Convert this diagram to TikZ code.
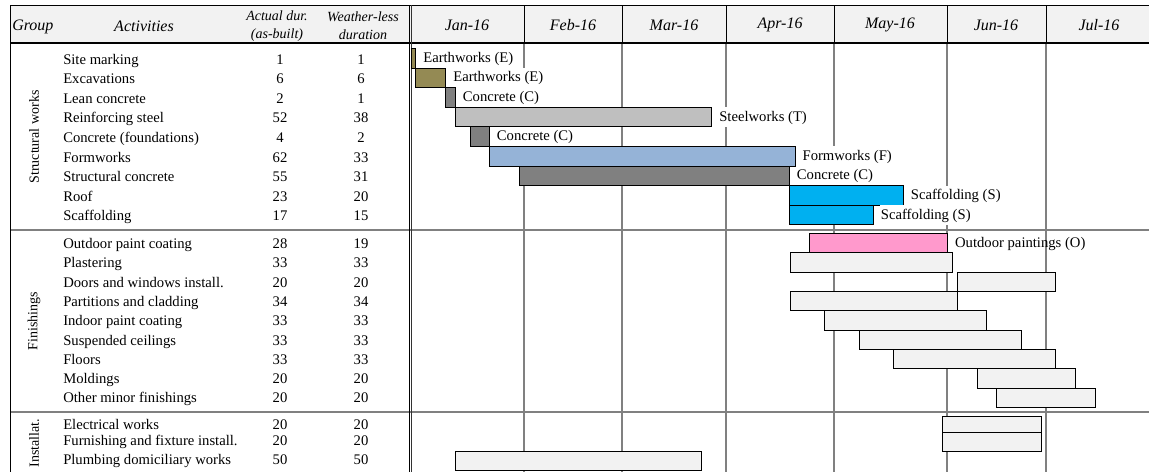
\documentclass[tikz,border=0pt]{standalone}
\usepackage{fontspec}
\setmainfont{Liberation Serif}
\usepackage{xcolor}

\definecolor{headfill}{HTML}{F2F2F2}
\definecolor{gridgrey}{HTML}{808080}
\definecolor{olivebar}{HTML}{948A54}
\definecolor{concbar}{HTML}{808080}
\definecolor{steelbar}{HTML}{BFBFBF}
\definecolor{formbar}{HTML}{95B3D7}
\definecolor{scafbar}{HTML}{00B0F0}
\definecolor{paintbar}{HTML}{FF99CC}
\definecolor{finbar}{HTML}{F2F2F2}

\tikzset{
  bar/.style={draw=black, line width=0.75pt},
  gridline/.style={draw=gridgrey, line width=0.9pt},
  act/.style={anchor=west, inner sep=0pt, text height=8pt, text depth=2pt, font=\fontsize{11}{13}\selectfont},
  num/.style={inner sep=0pt, text height=8pt, text depth=2pt, font=\fontsize{11}{13}\selectfont},
  barlbl/.style={anchor=west, fill=white, inner xsep=1pt, inner ysep=2.4pt, text height=8pt, text depth=2pt, font=\fontsize{11}{13}\selectfont},
  hdr/.style={align=center, inner sep=0pt, font=\fontsize{10.5}{13.7}\selectfont\itshape},
  month/.style={inner sep=0pt, font=\fontsize{12}{14}\selectfont\itshape},
  grp/.style={rotate=90, inner sep=0pt, font=\fontsize{10.5}{12}\selectfont},
}

\begin{document}
\begin{tikzpicture}[x=0.75pt, y=-0.75pt]
    \useasboundingbox (0,0) rectangle (1149,472);

    % Header band
    \fill[headfill] (10,5) rectangle (1149,43);
    \draw[black, line width=0.75pt] (10,5) -- (1149,5);
    \draw[black, line width=0.75pt] (524,5) -- (524,43);
    \draw[black, line width=0.75pt] (622,5) -- (622,43);
    \draw[black, line width=0.75pt] (726,5) -- (726,43);
    \draw[black, line width=0.75pt] (834,5) -- (834,43);
    \draw[black, line width=0.75pt] (947,5) -- (947,43);
    \draw[black, line width=0.75pt] (1046,5) -- (1046,43);

    % Month grid lines
    \draw[gridline] (524,43) -- (524,472);
    \draw[gridline] (622,43) -- (622,472);
    \draw[gridline] (726,43) -- (726,472);
    \draw[gridline] (834,43) -- (834,472);
    \draw[gridline] (947,43) -- (947,472);
    \draw[gridline, line width=1.2pt] (1046,43) -- (1046,472);

    % Group separators
    \draw[gridline, line width=1.2pt] (10,230) -- (1149,230);
    \draw[gridline, line width=1.2pt] (10,412) -- (1149,412);

    % Frame
    \draw[black, line width=1.1pt] (10,43) -- (1149,43);
    \draw[black, line width=0.75pt] (10,5) -- (10,472);
    \draw[black, line width=0.75pt] (409.3,5) -- (409.3,472);
    \draw[black!80, line width=0.9pt] (411.3,5) -- (411.3,472);

    % Header texts
    \node[month, anchor=west] (hgroup) at (12,26.5) {Group};
    \node[month] (hact) at (144,26.5) {Activities};
    \node[hdr] (hdur) at (277,25.8) {Actual dur.\\(as-built)};
    \node[hdr] (hwl) at (363,25.8) {Weather-less\\duration};
    \node[month] (mjan) at (467,25) {Jan-16};
    \node[month] (mfeb) at (573,25) {Feb-16};
    \node[month] (mmar) at (674,25) {Mar-16};
    \node[month] (mapr) at (780,25) {Apr-16};
    \node[month] (mmay) at (890,25) {May-16};
    \node[month] (mjun) at (996,25) {Jun-16};
    \node[month] (mjul) at (1099,25) {Jul-16};

    % Group labels
    \node[grp] (gstruct) at (34,137) {Structural works};
    \node[grp] (gfin) at (34,321) {Finishings};
    \node[grp] (ginst) at (34,443) {Installat.};

    % Structural works rows
    \node[act] (a1) at (63,60) {Site marking};            \node[num] (r1) at (280,60) {1};    \node[num] (w1) at (361,60) {1};
    \node[act] (a2) at (63,79.6) {Excavations};           \node[num] (r2) at (280,79.6) {6};  \node[num] (w2) at (361,79.6) {6};
    \node[act] (a3) at (63,99.2) {Lean concrete};         \node[num] (r3) at (280,99.2) {2};  \node[num] (w3) at (361,99.2) {1};
    \node[act] (a4) at (63,118.8) {Reinforcing steel};    \node[num] (r4) at (280,118.8) {52}; \node[num] (w4) at (361,118.8) {38};
    \node[act] (a5) at (63,138.4) {Concrete (foundations)}; \node[num] (r5) at (280,138.4) {4}; \node[num] (w5) at (361,138.4) {2};
    \node[act] (a6) at (63,158) {Formworks};              \node[num] (r6) at (280,158) {62};  \node[num] (w6) at (361,158) {33};
    \node[act] (a7) at (63,177.6) {Structural concrete};  \node[num] (r7) at (280,177.6) {55}; \node[num] (w7) at (361,177.6) {31};
    \node[act] (a8) at (63,197.2) {Roof};                 \node[num] (r8) at (280,197.2) {23}; \node[num] (w8) at (361,197.2) {20};
    \node[act] (a9) at (63,216.8) {Scaffolding};          \node[num] (r9) at (280,216.8) {17}; \node[num] (w9) at (361,216.8) {15};

    % Finishings rows
    \node[act] (a10) at (63,244.5) {Outdoor paint coating};      \node[num] (r10) at (280,244.5) {28}; \node[num] (w10) at (361,244.5) {19};
    \node[act] (a11) at (63,263.8) {Plastering};                 \node[num] (r11) at (280,263.8) {33}; \node[num] (w11) at (361,263.8) {33};
    \node[act] (a12) at (63,283.1) {Doors and windows install.}; \node[num] (r12) at (280,283.1) {20}; \node[num] (w12) at (361,283.1) {20};
    \node[act] (a13) at (63,302.4) {Partitions and cladding};    \node[num] (r13) at (280,302.4) {34}; \node[num] (w13) at (361,302.4) {34};
    \node[act] (a14) at (63,321.7) {Indoor paint coating};       \node[num] (r14) at (280,321.7) {33}; \node[num] (w14) at (361,321.7) {33};
    \node[act] (a15) at (63,341) {Suspended ceilings};           \node[num] (r15) at (280,341) {33};   \node[num] (w15) at (361,341) {33};
    \node[act] (a16) at (63,360.3) {Floors};                     \node[num] (r16) at (280,360.3) {33}; \node[num] (w16) at (361,360.3) {33};
    \node[act] (a17) at (63,379.6) {Moldings};                   \node[num] (r17) at (280,379.6) {20}; \node[num] (w17) at (361,379.6) {20};
    \node[act] (a18) at (63,398.9) {Other minor finishings};     \node[num] (r18) at (280,398.9) {20}; \node[num] (w18) at (361,398.9) {20};

    % Installation rows
    \node[act] (a19) at (63,425.7) {Electrical works};                \node[num] (r19) at (280,425.7) {20}; \node[num] (w19) at (361,425.7) {20};
    \node[act] (a20) at (63,441) {Furnishing and fixture install.};   \node[num] (r20) at (280,441) {20};   \node[num] (w20) at (361,441) {20};
    \node[act] (a21) at (63,460.7) {Plumbing domiciliary works};      \node[num] (r21) at (280,460.7) {50}; \node[num] (w21) at (361,460.7) {50};

    % Structural works bars
    \draw[bar, fill=olivebar] (411.5,48.5) rectangle (415.7,68.1);
    \node[barlbl] (l1) at (421.7,58.3) {Earthworks (E)};
    \draw[bar, fill=olivebar] (415.7,68.1) rectangle (445.7,87.7);
    \node[barlbl] (l2) at (451.7,77.9) {Earthworks (E)};
    \draw[bar, fill=concbar] (445.7,87.7) rectangle (455.3,107.3);
    \node[barlbl] (l3) at (461.3,97.5) {Concrete (C)};
    \draw[bar, fill=steelbar] (455.3,107.3) rectangle (711.7,126.9);
    \node[barlbl] (l4) at (717.7,117.1) {Steelworks (T)};
    \draw[bar, fill=concbar] (470.3,126.9) rectangle (489.3,146.5);
    \node[barlbl] (l5) at (495.3,136.7) {Concrete (C)};
    \draw[bar, fill=formbar] (489.3,146.5) rectangle (795,166.1);
    \node[barlbl] (l6) at (801,156.3) {Formworks (F)};
    \draw[bar, fill=concbar] (519.3,166.1) rectangle (789.3,185.7);
    \node[barlbl] (l7) at (795.3,175.9) {Concrete (C)};
    \draw[bar, fill=scafbar] (789.3,185.7) rectangle (903.3,205.3);
    \node[barlbl] (l8) at (909.3,195.5) {Scaffolding (S)};
    \draw[bar, fill=scafbar] (789.3,205.3) rectangle (873.3,224.9);
    \node[barlbl] (l9) at (879.3,215.1) {Scaffolding (S)};

    % Finishings bars
    \draw[bar, fill=paintbar] (809.3,233.3) rectangle (947.3,252.7);
    \node[barlbl, fill=none] (l10) at (953.5,243.5) {Outdoor paintings (O)};
    \draw[bar, fill=finbar] (790,252.7) rectangle (952.3,272);
    \draw[bar, fill=finbar] (957.3,272) rectangle (1055.7,291.4);
    \draw[bar, fill=finbar] (790,291.4) rectangle (957.3,310.7);
    \draw[bar, fill=finbar] (824.3,310.7) rectangle (986.7,330.1);
    \draw[bar, fill=finbar] (859,330.1) rectangle (1021.3,349.4);
    \draw[bar, fill=finbar] (893.3,349.4) rectangle (1055.7,368.8);
    \draw[bar, fill=finbar] (977.3,368.8) rectangle (1075.3,388.1);
    \draw[bar, fill=finbar] (996.7,388.1) rectangle (1095.3,407.5);

    % Installation bars
    \draw[bar, fill=finbar] (942.3,416) rectangle (1041.3,432);
    \draw[bar, fill=finbar] (942.3,432) rectangle (1041.3,451.3);
    \draw[bar, fill=finbar] (455,451) rectangle (701.7,470.3);

\end{tikzpicture}
\end{document}
